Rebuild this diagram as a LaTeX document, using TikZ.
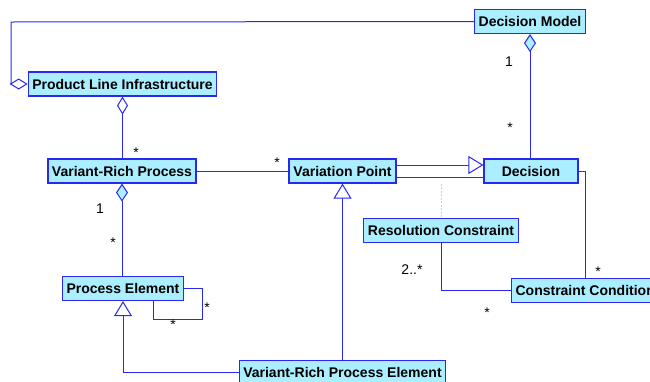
\documentclass[tikz,border=0pt]{standalone}
\usepackage{fontspec}
\setmainfont{Liberation Sans}
\usetikzlibrary{arrows.meta}
\definecolor{classfill}{RGB}{170,238,255}
\definecolor{umlblue}{RGB}{40,40,240}
\definecolor{hintcyan}{RGB}{160,225,250}

\begin{document}
\begin{tikzpicture}
  [x=1pt,y=-1pt,color=umlblue,line width=1pt,
  class/.style={rectangle,fill=classfill,draw=umlblue,line width=1.2pt,text=black,
    minimum height=24pt,inner xsep=4pt,font=\fontsize{14}{16}\selectfont\bfseries},
  mult/.style={text=black,inner sep=0pt,font=\fontsize{14}{16}\selectfont},
  agg/.style={{Diamond[length=18pt,width=11pt,fill=white]}-},
  comp/.style={{Diamond[length=18pt,width=12pt,fill=classfill]}-},
  gen/.style={-{Triangle[length=15pt,width=18pt,fill=white]}}]
  \useasboundingbox (0,0) rectangle (650,381);
  \clip (0,0) rectangle (650,381);

  % classes
  \node[class,minimum width=187pt] (pli) at (122.5,84) {Product Line Infrastructure};
  \node[class,minimum width=148pt] (vrp) at (122,171) {Variant-Rich Process};
  \node[class,minimum width=107pt] (vp) at (342.5,171) {Variation Point};
  \node[class,minimum width=110pt] (dm) at (530,21.5) {Decision Model};
  \node[class,minimum width=94pt] (dec) at (531,171) {Decision};
  \node[class,minimum width=154pt] (rc) at (441,230.5) {Resolution Constraint};
  \node[class,anchor=west] (cc) at (511,290.5) {Constraint Condition};
  \node[class,minimum width=120pt] (pe) at (123,288.5) {Process Element};
  \node[class,minimum width=205pt] (vrpe) at (342.5,372.5) {Variant-Rich Process Element};

  % associations
  \draw[agg] (pli.west) -| (11,22) -- (dm.west);
  \draw[agg] (pli.south) -- (pli.south |- vrp.north);
  \draw (vrp.east) -- (vp.west);
  \draw[comp] (vrp.south) -- (vrp.south |- pe.north);
  \draw (pe.east) -- ++(18,0) |- ([xshift=30pt,yshift=-18pt]pe.south) -- ([xshift=30pt]pe.south);
  \draw[comp] (dm.south) -- (dm.south |- dec.north);
  \draw ([yshift=-6pt]vp.east) -- ([yshift=-6pt]vp.east -| dec.west);
  \draw (dec.east) -| ([xshift=74pt]cc.north west);
  \draw (rc.south) |- (cc.west);
  \draw[hintcyan,line width=0.7pt,dash pattern=on 2pt off 1.5pt] (rc.north |- vp.south) -- (rc.north);

  % generalizations
  \draw[gen] (vrpe.west) -| (pe.south);
  \draw[gen] (vrpe.north) -- (vp.south);
  \draw[gen] ([yshift=6pt]vp.east) -- ([yshift=6pt]vp.east -| dec.west);

  % multiplicities
  \node[mult] at (136,153) {*};
  \node[mult] at (277,163) {*};
  \node[mult] at (100,209) {1};
  \node[mult] at (113,243) {*};
  \node[mult] at (207,308) {*};
  \node[mult] at (173,325) {*};
  \node[mult] at (509,62) {1};
  \node[mult] at (510,128) {*};
  \node[mult] at (598,272) {*};
  \node[mult] at (412,270) {2..*};
  \node[mult] at (487,313) {*};
\end{tikzpicture}
\end{document}
